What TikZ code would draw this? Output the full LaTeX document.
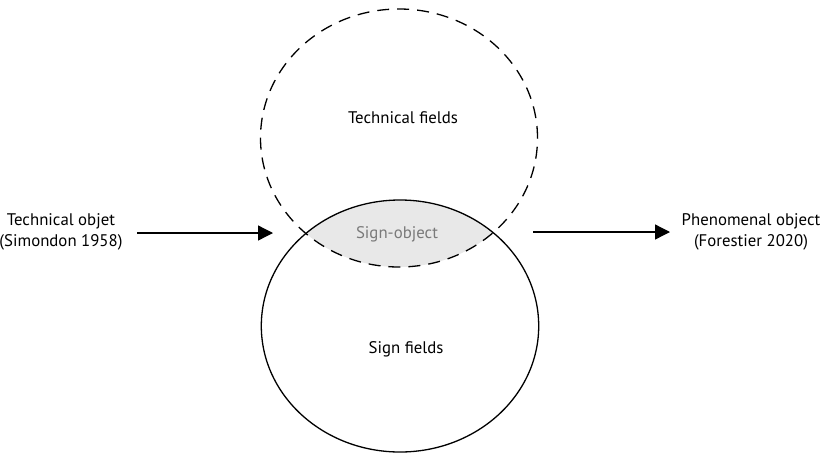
\documentclass[tikz,border=0pt]{standalone}
\usepackage{fontspec}
\setmainfont{PT Sans}
\usetikzlibrary{arrows.meta,shapes.geometric}
\definecolor{lensgray}{HTML}{E8E8E8}
\definecolor{labelgray}{HTML}{7A7A7A}
\begin{document}
\begin{tikzpicture}[x=1pt,y=-1pt,
  lbl/.style={font=\fontsize{16.8}{21}\selectfont, align=center, inner sep=0pt},
  conn/.style={line width=1.3pt, -{Triangle[length=15pt,width=15pt]}},
  field/.style={ellipse, inner sep=0pt, line width=1.3pt}]
\useasboundingbox (0,0) rectangle (826,453);
% intersection fill
\begin{scope}
  \clip (399,138) ellipse [x radius=138.5, y radius=129];
  \fill[lensgray] (400,326) ellipse [x radius=138.7, y radius=126];
\end{scope}
\node[field, draw, dashed, dash pattern=on 12pt off 8pt, minimum width=277pt, minimum height=258pt] (tech) at (399,138) {};
\node[field, draw, minimum width=277.4pt, minimum height=252pt] (sign) at (400,326) {};
\node[lbl] (techlbl) at (403,118) {Technical fields};
\node[lbl] (signlbl) at (406,349) {Sign fields};
\node[lbl, text=labelgray] (signobj) at (397,234) {Sign-object};
\node[lbl] (tobj) at (61,232) {Technical objet\\(Simondon 1958)};
\node[lbl] (pobj) at (751,232) {Phenomenal object\\(Forestier 2020)};
\coordinate (lstart) at (137,233);
\coordinate (lend) at (273,233);
\coordinate (rstart) at (533,232);
\coordinate (rend) at (670,232);
\draw[conn] (lstart) -- (lend);
\draw[conn] (rstart) -- (rend);
\end{tikzpicture}
\end{document}
